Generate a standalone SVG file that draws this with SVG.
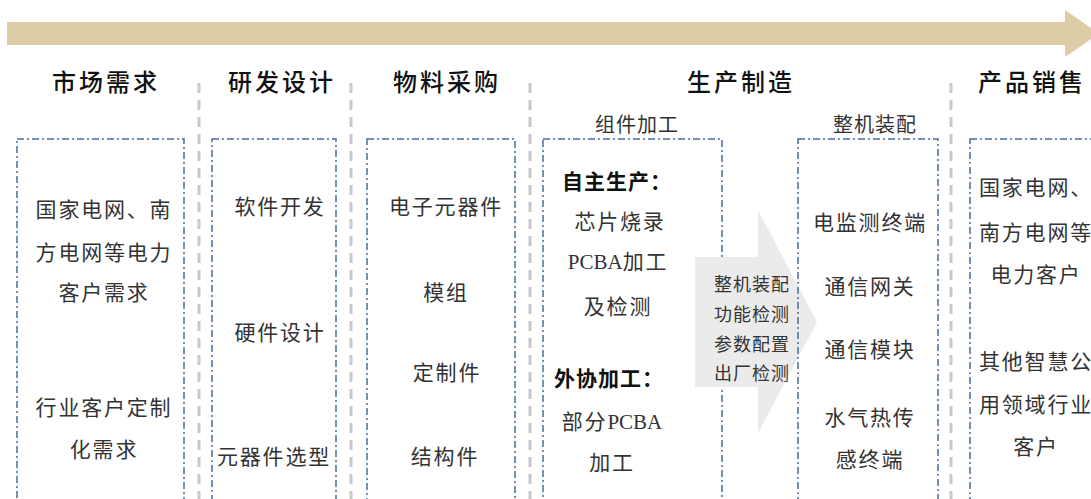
<svg xmlns="http://www.w3.org/2000/svg" width="1091" height="499" viewBox="0 0 1091 499">
<style>
.head{font-family:"Noto Sans CJK SC","Noto Sans",sans-serif;font-size:24px;font-weight:500;fill:#111;letter-spacing:3px}
.sub{font-family:"Noto Sans CJK SC",sans-serif;font-size:20px;fill:#333;letter-spacing:1px}
.t{font-family:"Liberation Serif","Noto Sans CJK SC",serif;font-size:21px;fill:#333;letter-spacing:1.8px}
.b{font-family:"Liberation Serif","Noto Sans CJK SC",serif;font-size:21px;font-weight:700;fill:#111;letter-spacing:1px}
.g{font-family:"Noto Sans CJK SC",sans-serif;font-size:18px;fill:#333;letter-spacing:1px}
.lat{letter-spacing:0}
.sep{stroke:#c8c8c8;stroke-width:3;stroke-dasharray:10 7;fill:none}
.box{stroke:#4a6c9b;stroke-width:1.5;stroke-dasharray:7 3 2 3;fill:none}
</style>
<rect width="1091" height="499" fill="#ffffff"/>
<g id="flow-arrow">
<polygon points="7,22 1065,22 1065,10 1099,33.5 1065,57 1065,45 7,45" fill="#dccda6"/>
</g>
<g id="headings" text-anchor="middle" dominant-baseline="central">
<text class="head" x="106" y="80">市场需求</text>
<text class="head" x="282" y="80">研发设计</text>
<text class="head" x="447" y="80">物料采购</text>
<text class="head" x="741" y="80">生产制造</text>
<text class="head" x="1032" y="80">产品销售</text>
<text class="sub" x="637" y="123">组件加工</text>
<text class="sub" x="875" y="123">整机装配</text>
</g>
<g id="separators">
<line class="sep" x1="199" y1="83" x2="199" y2="499"/>
<line class="sep" x1="351" y1="83" x2="351" y2="499"/>
<line class="sep" x1="530" y1="83" x2="530" y2="499"/>
<line class="sep" x1="951" y1="83" x2="951" y2="499"/>
</g>
<g id="market" text-anchor="middle" dominant-baseline="central">
<rect class="box" x="17" y="139" width="167" height="380"/>
<text class="t" x="104" y="210">国家电网、南</text>
<text class="t" x="104" y="253">方电网等电力</text>
<text class="t" x="104" y="293">客户需求</text>
<text class="t" x="104" y="408">行业客户定制</text>
<text class="t" x="104" y="450">化需求</text>
</g>
<g id="rnd" text-anchor="middle" dominant-baseline="central">
<rect class="box" x="212" y="139" width="124" height="380"/>
<text class="t" x="280" y="207">软件开发</text>
<text class="t" x="280" y="333">硬件设计</text>
<text class="t" x="274" y="457">元器件选型</text>
</g>
<g id="purchase" text-anchor="middle" dominant-baseline="central">
<rect class="box" x="367" y="139" width="148" height="380"/>
<text class="t" x="446" y="207">电子元器件</text>
<text class="t" x="446" y="293">模组</text>
<text class="t" x="447" y="373">定制件</text>
<text class="t" x="445" y="457">结构件</text>
</g>
<g id="component" dominant-baseline="central">
<rect class="box" x="543" y="139" width="179" height="380"/>
<text class="b" x="562" y="182">自主生产：</text>
<text class="t" x="620" y="222" text-anchor="middle">芯片烧录</text>
<text class="t" x="618" y="262" text-anchor="middle"><tspan class="lat">PCBA</tspan>加工</text>
<text class="t" x="618" y="307" text-anchor="middle">及检测</text>
<text class="b" x="554" y="379">外协加工：</text>
<text class="t" x="612" y="422" text-anchor="middle">部分<tspan class="lat">PCBA</tspan></text>
<text class="t" x="612" y="463" text-anchor="middle">加工</text>
</g>
<g id="assembly-step" text-anchor="middle" dominant-baseline="central">
<polygon points="695,257 758,257 758,210 817,322 758,433 758,387 695,387" fill="#ebebeb"/>
<text class="g" x="752" y="283">整机装配</text>
<text class="g" x="752" y="313">功能检测</text>
<text class="g" x="752" y="343">参数配置</text>
<text class="g" x="752" y="372">出厂检测</text>
</g>
<g id="assembly" text-anchor="middle" dominant-baseline="central">
<rect class="box" x="798" y="139" width="140" height="380"/>
<text class="t" x="870" y="223">电监测终端</text>
<text class="t" x="870" y="287">通信网关</text>
<text class="t" x="870" y="350">通信模块</text>
<text class="t" x="870" y="418">水气热传</text>
<text class="t" x="870" y="460">感终端</text>
</g>
<g id="sales" text-anchor="middle" dominant-baseline="central">
<rect class="box" x="970" y="139" width="140" height="380"/>
<text class="t" x="1036" y="188">国家电网、</text>
<text class="t" x="1036" y="233">南方电网等</text>
<text class="t" x="1036" y="275">电力客户</text>
<text class="t" x="1036" y="362">其他智慧公</text>
<text class="t" x="1036" y="405">用领域行业</text>
<text class="t" x="1036" y="447">客户</text>
</g>
</svg>
